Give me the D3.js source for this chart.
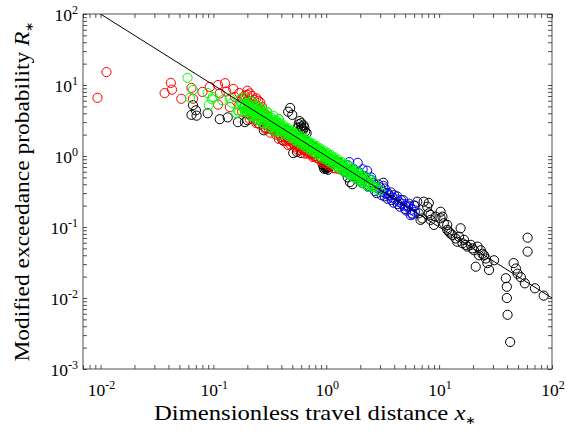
<!DOCTYPE html>
<html>
<head>
<meta charset="utf-8">
<script src="https://cdn.jsdelivr.net/npm/d3@7"></script>
<style>
  body { margin: 0; background: #fff; }
  text { font-family: "Liberation Serif", "Times New Roman", serif; fill: #000; }
</style>
</head>
<body>
<div id="chart"></div>
<script>
// ─── DATA ─────────────────────────────────────────────────────────
// [x*, R*] pairs
const blackPts = [
  [0.066,5.2],[0.064,3.8],[0.07,4.4],[0.071,3.7],[0.089,4.0],[0.114,3.3],[0.134,3.5],[0.165,3.0],
  [0.2,3.2],[0.25,2.9],[0.29,2.5],[0.19,3.0],[0.28,2.3],
  [0.41,1.68],[0.479,4.75],[0.5,3.8],[0.46,4.2],[0.55,1.14],[0.51,1.1],[0.6,1.1],
  [0.58,3.1],[0.6,2.6],[0.62,2.3],[0.65,2.2],[0.6,2.9],[0.67,2.1],[0.56,2.5],[0.63,2.7],
  [0.57,2.8],[0.61,2.45],[0.64,2.5],[0.59,2.3],
  [0.35,2.9],[0.4,2.5],[0.45,2.3],[0.5,2.0],[0.7,1.5],[0.75,1.4],[0.8,1.3],[0.85,1.15],[0.9,1.15],
  [0.98,0.75],[1.0,0.72],[1.03,0.78],[0.95,0.7],[1.05,0.7],[0.97,0.8],[1.0,0.66],[0.93,0.76],[1.08,0.74],
  [0.96,0.66],[1.02,0.68],[1.06,0.76],[0.99,0.7],[1.04,0.64],
  [1.1,0.9],[1.2,0.85],[1.3,0.8],
  [1.55,0.5],[1.7,0.4],[1.62,0.43],[1.5,0.6],[1.64,0.6],[1.8,0.52],[2.0,0.45],[2.2,0.5],[2.4,0.38],
  [2.6,0.42],[2.8,0.3],[3.0,0.36],[3.2,0.42],[3.3,0.27],[3.5,0.3],[3.8,0.24],[4.0,0.28],[4.3,0.21],
  [4.6,0.24],[5.0,0.18],[5.3,0.2],[5.8,0.155],[6.0,0.2],
  [6.4,0.227],[6.6,0.156],[7.1,0.132],[7.85,0.193],[8.1,0.156],[8.4,0.126],[9.0,0.107],[10.3,0.164],
  [10.7,0.14],[11.0,0.113],[11.8,0.091],[12.6,0.081],[15.5,0.096],[15.0,0.073],[16.6,0.066],[17.2,0.056],
  [19.1,0.056],[20.4,0.047],[21.1,0.0276],[21.9,0.053],[22.6,0.040],[24.2,0.042],[25.9,0.036],[26.8,0.031],
  [27.7,0.0248],[30.7,0.034],
  [6.85,0.126],[7.3,0.227],[8.1,0.218],[8.4,0.148],[9.3,0.14],[10.3,0.133],[11.8,0.107],[12.2,0.086],
  [13.1,0.077],[14.0,0.069],[14.5,0.062],[16.1,0.059],[17.8,0.053],[19.7,0.050],[23.4,0.047],[25.0,0.040],
  [39,0.019],[39.8,0.0144],[39.8,0.010],[40.4,0.0058],[42.6,0.0024],[45.7,0.031],[47.9,0.026],[49.5,0.022],
  [53,0.0196],[57.5,0.0161],[60.8,0.0707],[60.8,0.045],[70.6,0.0137],[84.4,0.0108]
]

const redPts = [
  [0.0094,6.6],[0.0113,15.2],[0.037,7.7],[0.042,10.7],[0.043,8.6],[0.052,6.4],[0.064,9.1],[0.066,6.4],
  [0.08,8.0],[0.093,9.4],[0.11,10.0],[0.114,7.6],[0.127,10.6],[0.13,8.1],[0.15,8.8],[0.155,6.8],
  [0.14,4.9],[0.11,5.3],[0.17,7.7],[0.19,6.6],[0.2,5.8],[0.2,8.3],[0.22,7.0],[0.24,6.5],[0.26,5.7],
  [0.23,6.2],[0.21,7.6],[0.25,6.0],[0.27,4.9],
  [0.17,5.3],[0.18,6.4],[0.18,4.2],[0.19,7.1],[0.19,5.0],[0.2,6.0],[0.2,4.0],[0.2,7.25],[0.21,5.0],
  [0.21,3.33],[0.22,5.9],[0.22,3.86],[0.23,5.0],[0.23,3.26],[0.24,5.2],[0.24,3.75],[0.24,2.9],[0.25,4.4],
  [0.25,3.2],[0.26,4.6],[0.26,2.77],[0.27,3.26],[0.27,3.9],[0.28,2.79],[0.28,4.1],[0.29,2.41],[0.29,3.1],
  [0.3,2.73],[0.3,3.6],[0.31,2.42],[0.31,2.97],[0.32,2.66],[0.32,2.13],[0.34,2.29],[0.34,2.7],[0.36,2.0],
  [0.36,2.39],[0.38,2.1],[0.38,1.74],[0.4,1.85],[0.4,2.2],[0.42,1.9],[0.42,1.62],[0.44,1.93],[0.44,1.64],
  [0.46,1.7],[0.46,1.43],[0.48,1.71],[0.48,1.46],[0.5,1.52],[0.5,1.76],[0.53,1.36],[0.53,1.58],[0.56,1.39],
  [0.56,1.21],[0.59,1.39],[0.59,1.22],[0.62,1.23],[0.62,1.39],[0.65,1.23],[0.65,1.08],[0.68,1.24],
  [0.68,1.09],[0.72,1.08],[0.72,1.19],[0.76,1.08],[0.76,0.97],[0.8,1.0],[0.8,1.1],[0.85,0.92],[0.9,0.91],
  [0.95,0.8],[1.0,0.8],[1.1,0.75],[1.2,0.67],[1.3,0.65],
  [0.33,2.36],[0.35,2.23],[0.37,2.11],[0.39,2.0],[0.43,1.81],[0.47,1.66],[0.51,1.53],[0.545,1.43],
  [0.575,1.36],[0.605,1.29],[0.635,1.23],[0.665,1.17],[0.7,1.11],[0.74,1.05],[0.78,1.0],[0.82,0.95],
  [0.87,0.9],[0.92,0.85],[0.97,0.8],[1.05,0.74],[1.15,0.68]
]

const bluePts = [
  [1.4,0.71],[1.5,0.67],[1.6,0.62],[1.7,0.59],[1.8,0.56],[1.9,0.52],[2.0,0.5],[2.15,0.465],[2.3,0.43],
  [2.45,0.41],[2.6,0.385],[2.8,0.36],[3.0,0.33],[3.2,0.31],[3.4,0.295],[3.6,0.28],[3.85,0.26],[4.1,0.245],
  [4.4,0.227],[4.7,0.213],[5.0,0.2],[5.3,0.19],[5.7,0.175],[6.1,0.164],
  [1.45,0.6],[1.65,0.527],[1.85,0.47],[2.07,0.42],[2.35,0.37],[2.7,0.322],[3.1,0.28],[3.5,0.249],
  [3.95,0.22],[4.5,0.193],[5.1,0.171],[5.8,0.15],
  [1.55,0.742],[1.75,0.657],[1.95,0.59],[2.2,0.523],[2.5,0.46],[2.9,0.397],[3.3,0.348],[3.75,0.307],
  [4.25,0.27],[4.8,0.24],[5.4,0.213],
  [1.9,0.8],[2.3,0.62],[1.6,0.82],[2.5,0.5],[2.1,0.65],[3.2,0.38],[5.6,0.147],[6.1,0.2]
]

const greenPts = [
  [0.059,12.6],[0.066,8.5],[0.062,6.6],[0.089,7.7],[0.091,5.2],[0.097,6.3],[0.12,6.1],[0.146,5.6],
  [0.165,4.4],[0.16,4.0],[0.099,6.8],[0.17,4.2],[0.14,6.5],
  [0.21,3.7],[0.24,3.3],[0.27,2.9],[0.22,5.8],[0.26,4.9],[0.3,4.1],[0.34,2.3],[0.38,3.3],
  [0.18,5.45],[0.19,5.35],[0.2,4.9],[0.21,4.85],[0.22,4.5],[0.235,4.3],[0.25,3.95],[0.265,3.8],[0.28,3.55],
  [0.3,3.38],[0.32,3.1],[0.34,2.97],[0.36,2.75],[0.38,2.65],[0.4,2.48],[0.42,2.4],[0.45,2.2],[0.48,2.1],
  [0.51,1.95],[0.54,1.86],[0.57,1.74],[0.6,1.68],[0.64,1.55],[0.68,1.48],[0.72,1.38],[0.76,1.32],[0.8,1.24],
  [0.85,1.18],[0.9,1.1],[0.95,1.06],[1.0,0.99],[1.06,0.95],[1.12,0.89],[1.19,0.85],[1.26,0.79],[1.34,0.75],
  [1.42,0.7],[1.5,0.67],[1.6,0.62],[1.7,0.59],[1.8,0.55],[1.9,0.53],[2.0,0.5],[2.15,0.47],[2.3,0.43],
  [2.45,0.41],[2.6,0.38],[2.8,0.36],[3.0,0.33],
  [0.185,4.76],[0.195,4.51],[0.205,4.29],[0.215,4.09],[0.228,3.86],[0.242,3.64],[0.257,3.42],[0.272,3.24],
  [0.29,3.03],[0.31,2.84],[0.33,2.67],[0.35,2.51],[0.37,2.38],[0.39,2.26],[0.41,2.15],[0.435,2.02],
  [0.465,1.89],[0.495,1.78],[0.525,1.68],[0.555,1.59],[0.585,1.5],[0.62,1.42],[0.66,1.33],[0.7,1.26],
  [0.74,1.19],[0.78,1.13],[0.825,1.07],[0.875,1.01],[0.925,0.95],[0.975,0.9],[1.03,0.854],[1.09,0.807],
  [1.155,0.762],[1.22,0.721],[1.3,0.677],[1.38,0.638],[1.46,0.603],[1.55,0.568],[1.65,0.533],[1.75,0.503],
  [1.85,0.476],[1.95,0.451],[2.07,0.425],[2.22,0.396],[2.37,0.371],
  [0.175,6.46],[0.2,5.65],[0.225,5.02],[0.25,4.52],[0.275,4.11],[0.3,3.77],[0.33,3.42],[0.36,3.14],
  [0.39,2.9],[0.42,2.69],[0.46,2.46],[0.5,2.26],[0.55,2.06],[0.6,1.88],[0.65,1.74],[0.7,1.61],[0.76,1.49],
  [0.82,1.38],[0.88,1.28],[0.95,1.19],[1.02,1.11],[1.1,1.03],[1.18,0.958],[1.27,0.89],[1.37,0.825],
  [1.47,0.769],[1.58,0.715],[1.7,0.665],[1.85,0.611],[2.0,0.565],[2.2,0.514],[2.4,0.471],[2.65,0.426],
  [0.19,5.0],[0.205,4.63],[0.22,4.32],[0.24,3.96],[0.26,3.65],[0.28,3.39],[0.3,3.17],[0.325,2.92],
  [0.35,2.71],[0.375,2.53],[0.4,2.375],[0.43,2.21],[0.46,2.07],[0.49,1.94],[0.52,1.83],[0.56,1.7],
  [0.6,1.58],[0.64,1.48],[0.68,1.4],[0.73,1.3],[0.78,1.22],[0.83,1.14],[0.89,1.07],[0.95,1.0],
  [1.01,0.94],[1.08,0.88],[1.15,0.826],[1.23,0.772],[1.32,0.72],[1.42,0.67],[1.52,0.625],[1.63,0.583],
  [1.75,0.543],[1.9,0.5],[2.05,0.463],[2.2,0.432],[2.4,0.396],[2.6,0.365],[2.85,0.333],
  [0.195,5.49],[0.21,5.1],[0.23,4.65],[0.245,4.37],[0.265,4.04],[0.285,3.75],[0.31,3.45],[0.335,3.19],
  [0.36,2.97],[0.385,2.78],[0.41,2.61],[0.44,2.43],[0.47,2.28],[0.5,2.14],[0.535,2.0],[0.575,1.86],
  [0.615,1.74],[0.66,1.62],[0.705,1.52],[0.75,1.43],[0.8,1.34],[0.86,1.24],[0.92,1.16],[0.98,1.09],
  [1.05,1.02],[1.12,0.955],[1.2,0.892],[1.3,0.823],[1.4,0.764],[1.5,0.713],[1.62,0.66],[1.75,0.611],
  [1.9,0.563],[2.05,0.522],[2.25,0.476],
  [0.19,4.2],[0.22,3.64],[0.25,3.2],[0.28,2.86],[0.32,2.5],[0.36,2.22],[0.4,2.0],
  [0.19,6.6],[0.215,5.8],[0.24,5.2],[0.27,4.63],[0.3,4.17],[0.34,3.68],[0.38,3.29]
]

// R* = 1/x* reference line
const fitX = [0.01, 100]
const fitR = [100, 0.01]

const xDecades = [-2, -1, 0, 1, 2]
const yDecades = [-3, -2, -1, 0, 1, 2]

// ─── LAYOUT ───────────────────────────────────────────────────────
const MARGIN = { TOP: 14, BOTTOM: 64, LEFT: 83, RIGHT: 15 }
const WIDTH = 567 - MARGIN.LEFT - MARGIN.RIGHT
const HEIGHT = 433 - MARGIN.TOP - MARGIN.BOTTOM
const AXIS_COLOR = '#262626'

const svg = d3.select('#chart').append('svg')
  .attr('width', 567)
  .attr('height', 433)

const g = svg.append('g')
  .attr('transform', `translate(${MARGIN.LEFT}, ${MARGIN.TOP})`)

// SCALES
const x = d3.scaleLog().domain([0.007, 100]).range([0, WIDTH])
const y = d3.scaleLog().domain([0.001, 100]).range([HEIGHT, 0])

// clip so nothing leaks out of the box
g.append('clipPath').attr('id', 'plotClip')
  .append('rect').attr('width', WIDTH).attr('height', HEIGHT)

const plot = g.append('g').attr('clip-path', 'url(#plotClip)')

// ─── SCATTER ──────────────────────────────────────────────────────
const series = [
  { pts: blackPts, color: '#000000' },
  { pts: redPts, color: '#ff0000' },
  { pts: bluePts, color: '#0000ff' },
  { pts: greenPts, color: '#00ff00' }
]

series.forEach(s => {
  plot.append('g').selectAll('circle')
    .data(s.pts)
    .enter().append('circle')
      .attr('cx', d => x(d[0]))
      .attr('cy', d => y(d[1]))
      .attr('r', 4.6)
      .attr('fill', 'none')
      .attr('stroke', s.color)
      .attr('stroke-width', 1)
})

// reference line
const line = d3.line()
  .x(d => x(d[0]))
  .y(d => y(d[1]))

plot.append('path')
  .datum(fitX.map((v, i) => [v, fitR[i]]))
  .attr('d', line)
  .attr('fill', 'none')
  .attr('stroke', '#000')
  .attr('stroke-width', 1)

// ─── AXES ─────────────────────────────────────────────────────────
const TICK = 4
const xTickVals = x.ticks()
const yTickVals = y.ticks()

function styleAxis(sel) {
  sel.select('.domain').remove()
  sel.selectAll('line').attr('stroke', AXIS_COLOR).attr('stroke-width', 0.8)
  sel.selectAll('text').remove()
}

g.append('g').attr('transform', `translate(0, ${HEIGHT})`)
  .call(d3.axisBottom(x).tickValues(xTickVals).tickSizeInner(-TICK).tickSizeOuter(0))
  .call(styleAxis)
g.append('g')
  .call(d3.axisTop(x).tickValues(xTickVals).tickSizeInner(-TICK).tickSizeOuter(0))
  .call(styleAxis)
g.append('g')
  .call(d3.axisLeft(y).tickValues(yTickVals).tickSizeInner(-TICK).tickSizeOuter(0))
  .call(styleAxis)
g.append('g').attr('transform', `translate(${WIDTH}, 0)`)
  .call(d3.axisRight(y).tickValues(yTickVals).tickSizeInner(-TICK).tickSizeOuter(0))
  .call(styleAxis)

// box
g.append('rect')
  .attr('width', WIDTH)
  .attr('height', HEIGHT)
  .attr('fill', 'none')
  .attr('stroke', AXIS_COLOR)
  .attr('stroke-width', 0.8)

// tick labels 10^n
function powLabel(sel, e) {
  sel.append('tspan').text('10')
  sel.append('tspan').attr('dy', -7).attr('font-size', 12).text(e)
}

xDecades.forEach(e => {
  g.append('text')
    .attr('x', x(Math.pow(10, e)) + 1)
    .attr('y', HEIGHT + 27)
    .attr('text-anchor', 'middle')
    .attr('font-size', 17.5)
    .call(powLabel, e)
})

yDecades.forEach(e => {
  g.append('text')
    .attr('x', -5)
    .attr('y', y(Math.pow(10, e)) + 7)
    .attr('text-anchor', 'end')
    .attr('font-size', 17.5)
    .call(powLabel, e)
})

// ─── LABELS ───────────────────────────────────────────────────────
const xLabel = svg.append('text')
  .attr('x', 315)
  .attr('y', 420)
  .attr('text-anchor', 'middle')
  .attr('font-size', 21)
  .attr('textLength', 322)
  .attr('lengthAdjust', 'spacingAndGlyphs')
xLabel.append('tspan').text('Dimensionless travel distance ')
xLabel.append('tspan').attr('font-style', 'italic').text('x')
xLabel.append('tspan').attr('font-size', 11).attr('dy', 4).text('∗')

const yLabel = svg.append('text')
  .attr('transform', `translate(29, ${MARGIN.TOP + HEIGHT / 2}) rotate(-90)`)
  .attr('text-anchor', 'middle')
  .attr('font-size', 21)
  .attr('textLength', 340)
  .attr('lengthAdjust', 'spacingAndGlyphs')
yLabel.append('tspan').text('Modified exceedance probability ')
yLabel.append('tspan').attr('font-style', 'italic').text('R')
yLabel.append('tspan').attr('font-size', 11).attr('dy', 4).text('∗')
</script>
</body>
</html>
